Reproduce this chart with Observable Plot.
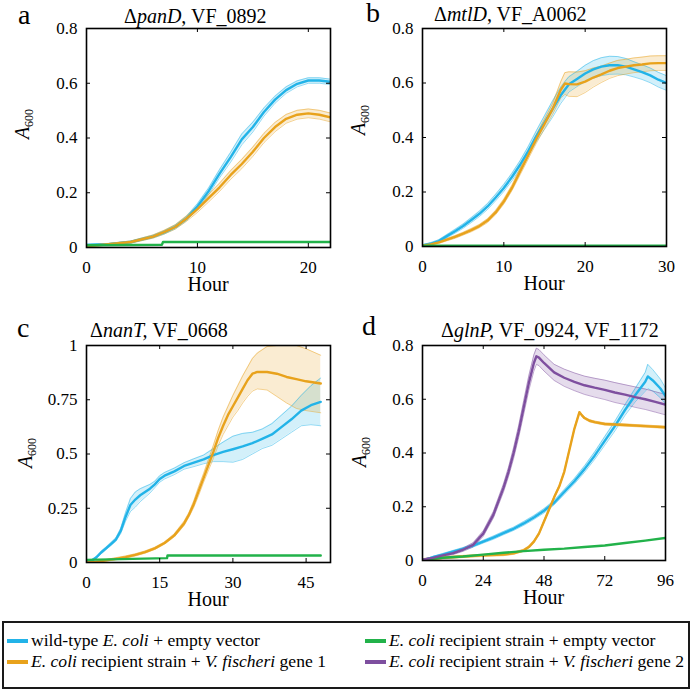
<!DOCTYPE html>
<html><head><meta charset="utf-8">
<script src="https://cdn.jsdelivr.net/npm/d3@7"></script>
<script src="https://cdn.jsdelivr.net/npm/@observablehq/plot@0.6"></script>
<style>
html,body{margin:0;padding:0;background:#fff;}
body{width:693px;height:692px;position:relative;overflow:hidden;font-family:"Liberation Serif","Times New Roman",serif;color:#000;}
.panel{position:absolute;}
.panel svg{overflow:visible;}
#legend{position:absolute;left:2px;top:621px;width:688px;height:68px;border:2.5px solid #1a1a1a;box-sizing:border-box;background:#fff;font-size:17.6px;}
.item{position:absolute;white-space:nowrap;line-height:1;}
.sw{position:absolute;width:21px;height:4px;}
</style></head><body>
<div id="pa" class="panel" style="left:0;top:0"></div>
<div id="pb" class="panel" style="left:346px;top:0"></div>
<div id="pc" class="panel" style="left:0;top:300px"></div>
<div id="pd" class="panel" style="left:346px;top:300px"></div>
<div id="legend"></div>
<script>
// ---------- data ----------
const seriesNames = ["wild-type E. coli + empty vector","E. coli recipient strain + V. fischeri gene 1","E. coli recipient strain + empty vector","E. coli recipient strain + V. fischeri gene 2"];

// Panel a  (ΔpanD, VF_0892)
const aHour = [0,2,4,6,7,8,9,10,11,12,13,14,15,16,17,18,19,20,21,22];
const aBlue = [0.009,0.012,0.02,0.04,0.055,0.075,0.105,0.15,0.205,0.27,0.33,0.395,0.44,0.495,0.54,0.575,0.598,0.61,0.61,0.605];
const aBlueErr = [0.003,0.003,0.004,0.005,0.006,0.007,0.008,0.01,0.012,0.015,0.018,0.02,0.018,0.015,0.013,0.012,0.011,0.01,0.01,0.01];
const aOrange = [0.005,0.012,0.02,0.04,0.056,0.075,0.105,0.14,0.18,0.22,0.265,0.305,0.35,0.4,0.44,0.47,0.485,0.49,0.485,0.475];
const aOrangeErr = [0.003,0.003,0.004,0.006,0.007,0.008,0.01,0.012,0.014,0.015,0.016,0.017,0.017,0.017,0.017,0.016,0.016,0.016,0.016,0.016];
const aGreenHour = [0,6.8,6.9,22];
const aGreen = [0.008,0.01,0.02,0.02];

// Panel b  (ΔmtlD, VF_A0062)
const bHour = [0,1,2,3,4,5,6,7,8,9,10,11,12,13,14,15,16,17,17.5,18,19,20,21,22,23,24,25,26,27,28,29,30];
const bBlue = [0.004,0.01,0.02,0.038,0.056,0.075,0.097,0.12,0.147,0.18,0.215,0.255,0.3,0.35,0.405,0.455,0.505,0.555,0.575,0.595,0.615,0.635,0.65,0.66,0.665,0.665,0.66,0.65,0.64,0.628,0.612,0.6];
const bBlueErr = [0.003,0.004,0.005,0.006,0.007,0.008,0.009,0.01,0.011,0.012,0.013,0.014,0.015,0.017,0.02,0.025,0.03,0.03,0.03,0.028,0.028,0.03,0.032,0.033,0.033,0.032,0.03,0.028,0.027,0.027,0.027,0.027];
const bOrange = [0.003,0.008,0.015,0.025,0.035,0.047,0.06,0.075,0.095,0.125,0.165,0.215,0.275,0.335,0.395,0.45,0.505,0.575,0.598,0.596,0.595,0.605,0.62,0.632,0.645,0.655,0.66,0.665,0.668,0.672,0.673,0.673];
const bOrangeErr = [0.003,0.003,0.004,0.004,0.005,0.005,0.006,0.006,0.007,0.008,0.009,0.01,0.012,0.014,0.016,0.018,0.02,0.03,0.04,0.045,0.045,0.04,0.035,0.03,0.028,0.028,0.027,0.027,0.027,0.027,0.027,0.027];
const bGreenHour = [0,30];
const bGreen = [0.003,0.003];

// Panel c  (ΔnanT, VF_0668)
const cBlueHour = [0,1,2,3,4,5,6,7,8,9,10,11,12,13,14,15,16,18,20,22,24,26,28,30,32,34,36,38,40,42,44,46,48];
const cBlue = [0,0.008,0.023,0.046,0.065,0.085,0.105,0.145,0.21,0.265,0.29,0.31,0.325,0.34,0.36,0.385,0.4,0.42,0.445,0.46,0.475,0.495,0.51,0.522,0.535,0.55,0.57,0.59,0.625,0.66,0.7,0.725,0.74];
const cBlueErr = [0.003,0.004,0.005,0.006,0.006,0.007,0.008,0.012,0.02,0.03,0.035,0.03,0.025,0.02,0.015,0.015,0.015,0.015,0.015,0.018,0.02,0.03,0.045,0.06,0.06,0.05,0.045,0.05,0.055,0.06,0.07,0.09,0.11];
const cOrangeHour = [0,2,4,6,8,10,12,14,16,18,20,21,22,23,24,25,26,27,28,29,30,31,32,33,34,35,37,39,41,43,45,48];
const cOrange = [0,0.003,0.01,0.017,0.025,0.035,0.048,0.065,0.09,0.125,0.18,0.22,0.27,0.33,0.39,0.45,0.51,0.575,0.63,0.68,0.72,0.76,0.8,0.84,0.87,0.878,0.878,0.87,0.855,0.845,0.835,0.825];
const cOrangeLo = [0,0,0.006,0.012,0.02,0.03,0.043,0.06,0.085,0.118,0.17,0.21,0.255,0.31,0.37,0.425,0.48,0.54,0.59,0.63,0.67,0.7,0.735,0.765,0.79,0.8,0.795,0.765,0.735,0.71,0.7,0.69];
const cOrangeHi = [0.003,0.006,0.014,0.022,0.03,0.04,0.053,0.07,0.095,0.132,0.19,0.23,0.285,0.35,0.41,0.475,0.54,0.61,0.67,0.72,0.77,0.815,0.86,0.9,0.94,0.965,0.995,1,1,1,0.985,0.955];
const cGreenHour = [0,16.5,16.6,48];
const cGreen = [0.012,0.02,0.032,0.032];

// Panel d  (ΔglnP, VF_0924, VF_1172)
const dPurpleHour = [0,4,8,12,16,20,24,28,32,34,36,38,40,42,44,45,46,48,52,56,60,64,68,72,76,80,84,88,92,96];
const dPurple = [0.003,0.01,0.019,0.027,0.04,0.058,0.1,0.17,0.27,0.33,0.4,0.48,0.57,0.66,0.735,0.76,0.755,0.735,0.7,0.68,0.665,0.652,0.643,0.635,0.625,0.617,0.608,0.6,0.59,0.58];
const dPurpleErr = [0.002,0.003,0.004,0.005,0.006,0.008,0.01,0.012,0.015,0.017,0.02,0.022,0.025,0.027,0.03,0.03,0.03,0.03,0.03,0.032,0.033,0.034,0.035,0.036,0.037,0.037,0.038,0.038,0.038,0.038];
const dBlueHour = [0,4,8,12,16,20,24,28,32,36,40,44,48,52,56,60,64,68,72,76,80,84,88,89,91,94,96];
const dBlue = [0,0.012,0.022,0.033,0.043,0.055,0.07,0.085,0.102,0.118,0.138,0.16,0.185,0.215,0.255,0.295,0.34,0.39,0.445,0.5,0.56,0.615,0.665,0.685,0.67,0.64,0.612];
const dBlueErr = [0.002,0.003,0.004,0.004,0.005,0.005,0.005,0.006,0.006,0.006,0.007,0.007,0.008,0.008,0.009,0.01,0.012,0.014,0.016,0.018,0.02,0.025,0.035,0.045,0.04,0.035,0.03];
const dOrangeHour = [0,8,16,24,32,36,40,42,44,46,48,50,52,54,56,58,60,62,63,64,66,68,72,80,88,96];
const dOrange = [0.003,0.01,0.015,0.019,0.022,0.027,0.038,0.05,0.07,0.1,0.145,0.19,0.235,0.275,0.33,0.41,0.49,0.552,0.54,0.53,0.52,0.515,0.508,0.504,0.5,0.496];
const dGreenHour = [0,8,16,24,32,40,48,56,64,72,80,88,96];
const dGreen = [0.003,0.01,0.015,0.022,0.029,0.035,0.04,0.044,0.05,0.056,0.065,0.074,0.084];

// tick labels
const aXTicks = [0,10,20], bXTicks = [0,10,20,30], cXTicks = [0,15,30,45], dXTicks = [0,24,48,72,96];
const yTicks08 = [0,0.2,0.4,0.6,0.8], yTicks1 = [0,0.25,0.5,0.75,1];

// ---------- styling ----------
const COL = {blue:"#22b3e8", orange:"#e8a21c", green:"#22b24a", purple:"#7e4f9f"};
const FONT = '"Liberation Serif","Times New Roman",serif';

function errRows(t, y, e){ return t.map((h,i)=>{const d = Array.isArray(e)?e[i]:e; return {h, y:y[i], lo:y[i]-d, hi:y[i]+d};}); }
function bandRows(t, y, lo, hi){ return t.map((h,i)=>({h, y:y[i], lo:lo[i], hi:hi[i]})); }
function lineRows(t, y){ return t.map((h,i)=>({h, y:y[i]})); }

function buildPanel(id, cfg){
  const fw = cfg.width - cfg.ml - cfg.mr, fh = cfg.height - cfg.mt - cfg.mb;
  const marks = [];
  for (const s of cfg.series) if (s.band)
    marks.push(Plot.areaY(s.rows,{x:"h",y1:"lo",y2:"hi",fill:s.color,fillOpacity:0.2,clip:true}));
  for (const s of cfg.series) if (s.band) {
    marks.push(Plot.lineY(s.rows,{x:"h",y:"lo",stroke:s.color,strokeOpacity:0.55,strokeWidth:0.9,clip:true}));
    marks.push(Plot.lineY(s.rows,{x:"h",y:"hi",stroke:s.color,strokeOpacity:0.55,strokeWidth:0.9,clip:true}));
  }
  for (const s of cfg.series)
    marks.push(Plot.lineY(s.rows,{x:"h",y:"y",stroke:s.color,strokeWidth:2.4,clip:true}));
  // inward MATLAB-style ticks on all four sides
  marks.push(Plot.ruleX(cfg.xTicks,{insetTop:fh-4,stroke:"black",strokeWidth:1}));
  marks.push(Plot.ruleX(cfg.xTicks,{insetBottom:fh-4,stroke:"black",strokeWidth:1}));
  marks.push(Plot.ruleY(cfg.yTicks,{insetRight:fw-4,stroke:"black",strokeWidth:1}));
  marks.push(Plot.ruleY(cfg.yTicks,{insetLeft:fw-4,stroke:"black",strokeWidth:1}));
  marks.push(Plot.frame({stroke:"black",strokeWidth:1.6}));
  const svg = Plot.plot({
    width:cfg.width, height:cfg.height,
    marginLeft:cfg.ml, marginRight:cfg.mr, marginTop:cfg.mt, marginBottom:cfg.mb,
    x:{domain:cfg.xDomain, ticks:cfg.xTicks, tickSize:0, tickPadding:13, label:null, tickFormat:d=>String(d)},
    y:{domain:cfg.yDomain, ticks:cfg.yTicks, tickSize:0, tickPadding:9, label:null, tickFormat:d=>String(d)},
    style:{fontFamily:FONT, fontSize:"17px", color:"black", background:"transparent", overflow:"visible"},
    marks
  });
  document.getElementById(id).appendChild(svg);
  d3.select(svg).selectAll("text").style("font-family", FONT).style("font-size","17px");
  const g = d3.select(svg).append("g").attr("fill","black").attr("text-anchor","start").style("font-family",FONT);
  // panel letter
  g.append("text").attr("x",cfg.letterX).attr("y",cfg.letterY).style("font-size","28px").text(cfg.letter);
  // title
  const t = g.append("text").attr("x",cfg.titleX).attr("y",cfg.titleY).style("font-size","20px");
  for (const [txt, it] of cfg.title) { const sp = t.append("tspan").text(txt); if (it) sp.style("font-style","italic"); }
  // x label
  g.append("text").attr("x",cfg.ml+fw/2).attr("y",cfg.mt+fh+44).attr("text-anchor","middle").style("font-size","20px").text("Hour");
  // y label A600
  const yl = g.append("text").attr("text-anchor","middle").style("font-size","20px")
    .attr("transform",`translate(${cfg.ylabX},${cfg.ylabY}) rotate(-90)`);
  yl.append("tspan").style("font-style","italic").text("A");
  yl.append("tspan").style("font-size","12px").attr("dy",4).text("600");
}

buildPanel("pa",{width:346,height:300,ml:86,mr:16,mt:28,mb:53,xDomain:[0,22],yDomain:[0,0.8],xTicks:aXTicks,yTicks:yTicks08,
  letter:"a",letterX:18,letterY:24,title:[["Δ",0],["panD",1],[", VF_0892",0]],titleX:124,titleY:23,ylabX:29,ylabY:124,
  series:[
    {color:COL.blue,band:true,rows:errRows(aHour,aBlue,aBlueErr)},
    {color:COL.orange,band:true,rows:errRows(aHour,aOrange,aOrangeErr)},
    {color:COL.green,band:false,rows:lineRows(aGreenHour,aGreen)}
  ]});
buildPanel("pb",{width:347,height:300,ml:76,mr:27,mt:28,mb:54,xDomain:[0,30],yDomain:[0,0.8],xTicks:bXTicks,yTicks:yTicks08,
  letter:"b",letterX:20,letterY:22,title:[["Δ",0],["mtlD",1],[", VF_A0062",0]],titleX:88,titleY:21,ylabX:19,ylabY:120,
  series:[
    {color:COL.blue,band:true,rows:errRows(bHour,bBlue,bBlueErr)},
    {color:COL.orange,band:true,rows:errRows(bHour,bOrange,bOrangeErr)},
    {color:COL.green,band:false,rows:lineRows(bGreenHour,bGreen)}
  ]});
buildPanel("pc",{width:346,height:320,ml:86,mr:16,mt:45,mb:58,xDomain:[0,50],yDomain:[0,1],xTicks:cXTicks,yTicks:yTicks1,
  letter:"c",letterX:17,letterY:37,title:[["Δ",0],["nanT,",1],[" VF_0668",0]],titleX:90,titleY:37,ylabX:32,ylabY:153,
  series:[
    {color:COL.blue,band:true,rows:errRows(cBlueHour,cBlue,cBlueErr)},
    {color:COL.orange,band:true,rows:bandRows(cOrangeHour,cOrange,cOrangeLo,cOrangeHi)},
    {color:COL.green,band:false,rows:lineRows(cGreenHour,cGreen)}
  ]});
buildPanel("pd",{width:347,height:320,ml:76,mr:28,mt:45,mb:60,xDomain:[0,96],yDomain:[0,0.8],xTicks:dXTicks,yTicks:yTicks08,
  letter:"d",letterX:16,letterY:35,title:[["Δ",0],["glnP,",1],[" VF_0924, VF_1172",0]],titleX:95,titleY:37,ylabX:20,ylabY:152,
  series:[
    {color:COL.blue,band:true,rows:errRows(dBlueHour,dBlue,dBlueErr)},
    {color:COL.orange,band:true,rows:errRows(dOrangeHour,dOrange,0.004)},
    {color:COL.green,band:false,rows:lineRows(dGreenHour,dGreen)},
    {color:COL.purple,band:true,rows:errRows(dPurpleHour,dPurple,dPurpleErr)}
  ]});

// ---------- legend ----------
const legendItems = [
  {color:COL.blue, parts:[["wild-type ",0],["E. coli",1],[" + empty vector",0]], x:3, y:18},
  {color:COL.orange, parts:[["E. coli",1],[" recipient strain + ",0],["V. fischeri",1],[" gene 1",0]], x:3, y:39},
  {color:COL.green, parts:[["E. coli",1],[" recipient strain + empty vector",0]], x:361, y:18},
  {color:COL.purple, parts:[["E. coli",1],[" recipient strain + ",0],["V. fischeri",1],[" gene 2",0]], x:361, y:39}
];
const leg = d3.select("#legend");
for (const it of legendItems) {
  leg.append("div").attr("class","sw").style("left",it.x+"px").style("top",(it.y-2)+"px").style("background",it.color);
  const d = leg.append("div").attr("class","item").style("left",(it.x+24)+"px").style("top",(it.y-9)+"px");
  for (const [txt, ital] of it.parts) { const s = d.append("span").text(txt); if (ital) s.style("font-style","italic"); }
}
</script>
</body></html>
